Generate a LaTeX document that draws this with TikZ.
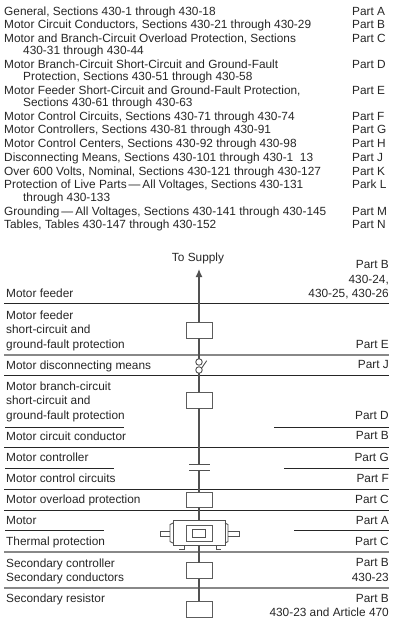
\documentclass[tikz,border=0pt]{standalone}
\usepackage{fontspec}
\setmainfont{Liberation Sans}
\usetikzlibrary{arrows.meta}
\definecolor{ink}{HTML}{262626}
\tikzset{
    lbl/.style={inner sep=0pt, anchor=base west, text=ink, font=\fontsize{11.85}{13}\selectfont},
    rlbl/.style={lbl, anchor=base east},
    rule/.style={draw=ink, line width=0.8pt},
    softrule/.style={draw=ink!55, line width=1.2pt},
    wire/.style={draw=ink!80, line width=1.3pt},
    box/.style={draw=ink!75, fill=white, line width=0.9pt, minimum width=26pt, minimum height=16pt, inner sep=0pt, outer sep=0pt},
    contact/.style={draw=ink!80, fill=white, line width=0.9pt, circle, minimum size=6.5pt, inner sep=0pt, outer sep=0pt},
    part/.style={draw=ink!80, line width=0.9pt}
}
\begin{document}
\begin{tikzpicture}[x=1pt,y=-1pt]
\useasboundingbox (0,0) rectangle (401,627);
% list of parts
\foreach \y/\x/\txt [count=\i] in {
    15/4/{General, Sections 430-1 through 430-18},
    28/4/{Motor Circuit Conductors, Sections 430-21 through 430-29},
    42/4/{Motor and Branch-Circuit Overload Protection, Sections},
    54/23/{430-31 through 430-44},
    68/4/{Motor Branch-Circuit Short-Circuit and Ground-Fault},
    80/23/{Protection, Sections 430-51 through 430-58},
    94/4/{Motor Feeder Short-Circuit and Ground-Fault Protection,},
    106/23/{Sections 430-61 through 430-63},
    120/4/{Motor Control Circuits, Sections 430-71 through 430-74},
    133/4/{Motor Controllers, Sections 430-81 through 430-91},
    147/4/{Motor Control Centers, Sections 430-92 through 430-98},
    161/4/{Disconnecting Means, Sections 430-101 through 430-1\ \ 13},
    175/4/{Over 600 Volts, Nominal, Sections 430-121 through 430-127},
    188/4/{Protection of Live Parts\,---\,All Voltages, Sections 430-131},
    201/23/{through 430-133},
    215/4/{Grounding\,---\,All Voltages, Sections 430-141 through 430-145},
    228/4/{Tables, Tables 430-147 through 430-152}
}{
    \node[lbl] (item\i) at (\x,\y) {\txt};
}
\foreach \y/\txt [count=\i] in {
    15/Part A, 28/Part B, 42/Part C, 68/Part D, 94/Part E, 120/Part F, 133/Part G,
    147/Part H, 161/Part J, 175/Part K, 188/Park L, 215/Part M, 228/Part N
}{
    \node[lbl] (tag\i) at (352,\y) {\txt};
}
% labels of the diagram
\foreach \y/\txt [count=\i] in {
    297/Motor feeder, 319/Motor feeder, 333/short-circuit and, 348/ground-fault protection,
    369/Motor disconnecting\ means, 390/Motor branch-circuit, 404/short-circuit and,
    419/ground-fault protection, 440/Motor circuit conductor, 461/Motor controller,
    482/Motor control circuits, 503/Motor overload protection, 524/Motor,
    545/Thermal protection, 567/Secondary controller, 581/Secondary conductors,
    602/Secondary resistor
}{
    \node[lbl] (left\i) at (6,\y) {\txt};
}
\foreach \y/\txt [count=\i] in {
    268/Part B, 283/{430-24,}, 297/{430-25, 430-26}, 348/Part E, 368/Part J, 419/Part D,
    439/Part B, 461/Part G, 482/Part F, 503/Part C, 524/Part A, 545/Part C, 566/Part B,
    581/430-23, 602/Part B, 616/430-23 and Article 470
}{
    \node[rlbl] (right\i) at (389,\y) {\txt};
}
% rules
\foreach \y in {303,375,447,489,510}{
    \draw[rule] (4,\y)--(389,\y);
}
\foreach \y in {355,552,588}{
    \draw[softrule] (4,\y)--(389,\y);
}
\foreach \y/\a/\b in {427/124/274, 468/114/284, 530/104/294}{
    \draw[rule] (5,\y)--(\a,\y);
    \draw[rule] (\b,\y)--(389,\y);
}
% one line
\coordinate (tip) at (199,269);
\coordinate (barA) at (199,464);
\coordinate (barB) at (199,470);
\node[box] (feederbox) at (199,330) {};
\node[contact] (discA) at (199,362) {};
\node[contact] (discB) at (199,370) {};
\node[box] (branchbox) at (199,400) {};
\node[box, minimum height=15pt] (overloadbox) at (199,499.5) {};
\node[part, fill=white, minimum width=52pt, minimum height=24.5pt, inner sep=0pt, outer sep=0pt] (motorbox) at (199,533) {};
\node[box] (seccontrolbox) at (199,570.5) {};
\node[box] (resistorbox) at (199,609) {};
\draw[wire, -{Latex[length=8pt,width=7pt]}] (feederbox)--(tip);
\draw[wire] (feederbox)--(discA);
\draw[wire] (discB)--(branchbox);
\draw[wire] (branchbox)--(barA);
\draw[wire] (barB)--(overloadbox);
\draw[wire] (overloadbox)--(motorbox);
\draw[wire] (motorbox)--(seccontrolbox);
\draw[wire] (seccontrolbox)--(resistorbox);
\draw[part] (189,464)--(210,464);
\draw[part] (189,470)--(210,470);
\draw[part] (201.7,368)--(206.7,360.7);
% motor
\node[box] (statorbox) at (motorbox) {};
\node[part, minimum width=12.5pt, minimum height=8pt, inner sep=0pt] (rotorbox) at (motorbox) {};
\draw[part] (173,523)--(170,524.5)--(170,541.5)--(173,543);
\draw[part] (225,523)--(228,524.5)--(228,541.5)--(225,543);
\draw[part] (170,531)--(160,531)--(160,536)--(170,536);
\draw[part] (228,531)--(239,531)--(239,536)--(228,536);
\draw[part] (184,545)--(184,549)--(179,549);
\draw[part] (216,545)--(216,549)--(221,549);
\node[inner sep=0pt, text=ink, font=\fontsize{11.85}{13}\selectfont] (supply) at (198,258) {To Supply};
\end{tikzpicture}
\end{document}
